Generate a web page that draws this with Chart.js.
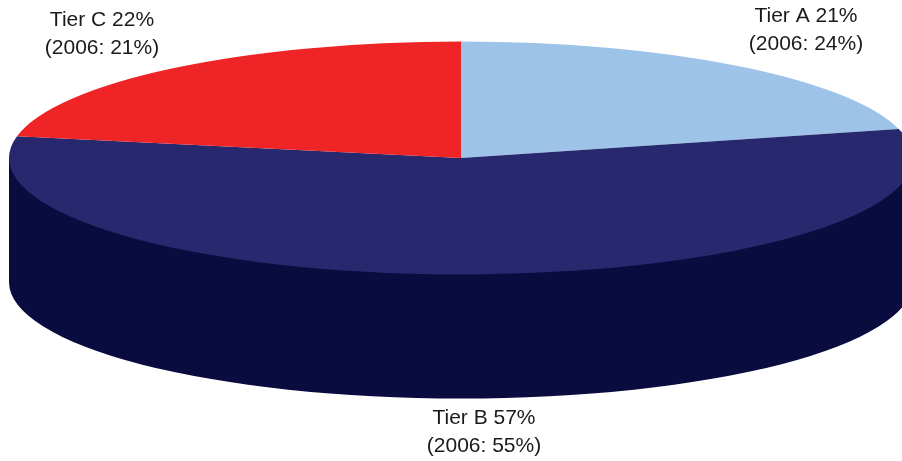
<!DOCTYPE html>
<html>
<head>
<meta charset="utf-8">
<style>
html,body{margin:0;padding:0;background:#fff;overflow:hidden}
#wrap{width:902px;height:461px}
canvas{display:block}
</style>
<script src="https://cdn.jsdelivr.net/npm/chart.js@4/dist/chart.umd.min.js"></script>
</head>
<body>
<div id="wrap"><canvas id="c" width="902" height="461"></canvas></div>
<script>
const categories = ['Tier A', 'Tier B', 'Tier C'];
const values = [21, 57, 22];
const values2006 = [24, 55, 21];
const topColors = ['#9dc3e8', '#27286d', '#ef2426'];
const wallColors = ['#6f8fb0', '#0a0b3e', '#a01a1c'];
const labelCentres = [[806, 16], [484, 418], [102, 20]];

const CX = 461, CY = 158, RX = 452, RY = 116.5, DEPTH = 124;

const pie3d = {
  id: 'pie3d',
  beforeDatasetsDraw(chart) {
    const ctx = chart.ctx;
    const arcs = chart.getDatasetMeta(0).data;
    arcs.forEach((arc, i) => {
      const a0 = Math.max(arc.startAngle, 0);
      const a1 = Math.min(arc.endAngle, Math.PI);
      if (a1 <= a0) return;
      ctx.save();
      ctx.fillStyle = wallColors[i];
      ctx.beginPath();
      ctx.moveTo(CX + RX * Math.cos(a0), CY + RY * Math.sin(a0));
      ctx.ellipse(CX, CY, RX - 3, RY - 3, 0, a0, a1, false);
      ctx.lineTo(CX + RX * Math.cos(a1), CY + RY * Math.sin(a1));
      ctx.ellipse(CX, CY + DEPTH, RX, RY, 0, a1, a0, true);
      ctx.closePath();
      ctx.fill();
      ctx.restore();
    });
    const a = arcs[0];
    ctx.save();
    ctx.translate(CX, CY);
    ctx.scale(1, RY / RX);
    ctx.translate(-a.x, -a.y);
  },
  afterDatasetsDraw(chart) {
    const ctx = chart.ctx;
    ctx.restore();
    ctx.save();
    ctx.font = '21px "Liberation Sans", Arial, sans-serif';
    ctx.fillStyle = '#1a1a1a';
    ctx.textAlign = 'center';
    ctx.textBaseline = 'middle';
    categories.forEach((name, i) => {
      const [x, y] = labelCentres[i];
      ctx.fillText(name + ' ' + values[i] + '%', x, y);
      ctx.fillText('(2006: ' + values2006[i] + '%)', x, y + 28);
    });
    ctx.restore();
  }
};

new Chart(document.getElementById('c'), {
  type: 'pie',
  data: {
    labels: categories,
    datasets: [{
      data: values,
      backgroundColor: topColors,
      borderWidth: 0,
      radius: RX,
      clip: false
    }]
  },
  options: {
    responsive: false,
    animation: false,
    devicePixelRatio: 1,
    layout: { padding: 0 },
    plugins: { legend: { display: false }, tooltip: { enabled: false } }
  },
  plugins: [pie3d]
});
</script>
</body>
</html>
